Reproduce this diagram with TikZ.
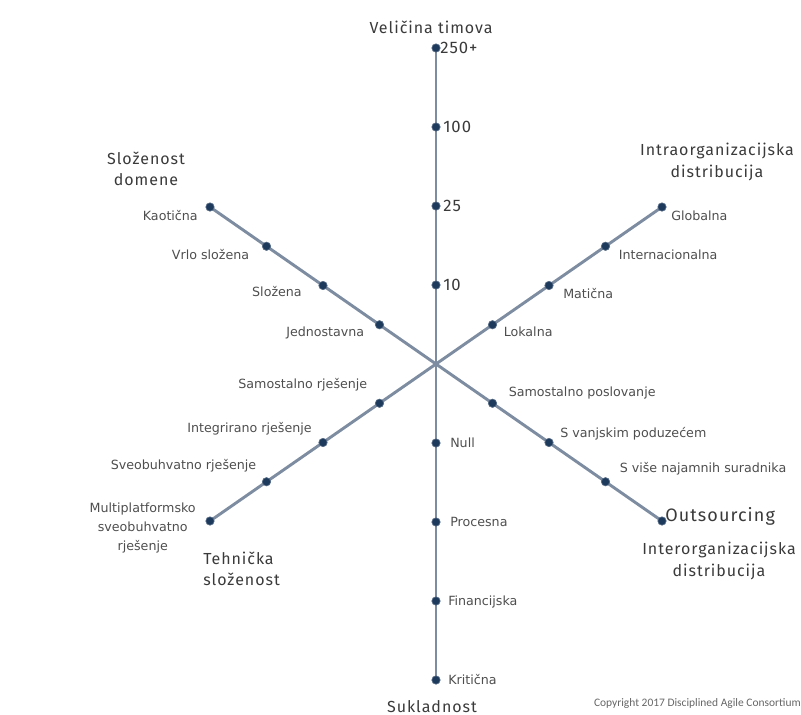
\documentclass[tikz,border=0pt]{standalone}
\usepackage{fontspec}
\setmainfont{Fira Sans}
\newfontfamily\titlefont[LetterSpace=6]{Fira Sans}
\newfontfamily\lblfont{DejaVu Sans}
\newfontfamily\notefont{Carlito}
\usetikzlibrary{backgrounds}
\definecolor{axisgray}{HTML}{7D8CA0}
\definecolor{dotblue}{HTML}{1D3A5C}
\definecolor{titlegray}{HTML}{3A3A3A}
\definecolor{lblgray}{HTML}{4E4E4E}

\begin{document}
\begin{tikzpicture}[
  x=0.75pt, y=-0.75pt,
  dot/.style={circle, fill=dotblue, draw=dotblue!75!white, line width=0.5pt,
    inner sep=0pt, minimum size=6.3pt},
  axis/.style={draw=axisgray, line width=2.2pt},
  title/.style={font=\titlefont\fontsize{12}{16}\selectfont, text=titlegray,
    inner sep=0pt},
  value/.style={font=\titlefont\fontsize{12.5}{14}\selectfont, text=titlegray,
    inner sep=0pt},
  lbl/.style={font=\lblfont\fontsize{9.5}{14.5}\selectfont, text=lblgray,
    inner sep=0pt}
]
\useasboundingbox (0,0) rectangle (801,715);

% Velicina timova (up)
\foreach \val/\dx [count=\k] in {10/7, 25/7, 100/7, 250+/4} {
  \node[dot] (team\k) at (436,364-79*\k) {};
  \node[value, anchor=base west] at ([shift={(\dx,5)}]team\k) {\val};
}
% Sukladnost (down)
\foreach \lab/\dx [count=\k] in {Null/14, Procesna/14, Financijska/12, Kritična/12} {
  \node[dot] (comp\k) at (436,364+79*\k) {};
  \node[lbl, anchor=base west] at ([shift={(\dx,4)}]comp\k) {\lab};
}
% Slozenost domene (up left)
\foreach \lab/\dx/\dy [count=\k] in {Jednostavna/-15/12, Složena/-21/11,
    Vrlo složena/-17/13, Kaotična/-12/13} {
  \node[dot] (dom\k) at (436-56.5*\k,364-39.25*\k) {};
  \node[lbl, anchor=base east] at ([shift={(\dx,\dy)}]dom\k) {\lab};
}
% Intraorganizacijska distribucija (up right)
\foreach \lab/\dx/\dy [count=\k] in {Lokalna/11/12, Matična/14/13,
    Internacionalna/13/13, Globalna/9/13} {
  \node[dot] (intra\k) at (436+56.5*\k,364-39.25*\k) {};
  \node[lbl, anchor=base west] at ([shift={(\dx,\dy)}]intra\k) {\lab};
}
% Tehnicka slozenost (down left)
\foreach \lab/\dx/\dy [count=\k] in {Samostalno rješenje/-12/-15,
    Integrirano rješenje/-11/-10, Sveobuhvatno rješenje/-10/-12} {
  \node[dot] (tech\k) at (436-56.5*\k,364+39.25*\k) {};
  \node[lbl, anchor=base east] at ([shift={(\dx,\dy)}]tech\k) {\lab};
}
\node[dot] (tech4) at (436-56.5*4,364+39.25*4) {};
\node[lbl, align=center, anchor=east] at ([shift={(-14,7)}]tech4)
  {Multiplatformsko\\sveobuhvatno\\rješenje};
% Interorganizacijska distribucija (down right)
\foreach \lab/\dx/\dy [count=\k] in {Samostalno poslovanje/16/-7,
    S vanjskim poduzećem/11/-5, S više najamnih suradnika/14/-9} {
  \node[dot] (inter\k) at (436+56.5*\k,364+39.25*\k) {};
  \node[lbl, anchor=base west] at ([shift={(\dx,\dy)}]inter\k) {\lab};
}
\node[dot] (inter4) at (436+56.5*4,364+39.25*4) {};
\node[title, font=\titlefont\fontsize{13.5}{16}\selectfont, anchor=base west]
  at ([shift={(3,0)}]inter4) {Outsourcing};

% axes
\begin{scope}[on background layer]
  \draw[axis] (team4.center) -- (comp4.center);
  \draw[axis] (dom4.center) -- (inter4.center);
  \draw[axis] (intra4.center) -- (tech4.center);
\end{scope}

% axis titles
\node[title, anchor=base] (teamtitle) at (431,33) {Veličina timova};
\node[title, align=center] (domtitle) at (146,169) {Složenost\\domene};
\node[title, align=center] (intratitle) at (717,162)
  {Intraorganizacijska\\distribucija};
\node[title, align=left, anchor=west] (techtitle) at (203,569)
  {Tehnička\\složenost};
\node[title, align=center] (intertitle) at (719,561)
  {Interorganizacijska\\distribucija};
\node[title, anchor=base] (comptitle) at (432,712) {Sukladnost};

\node[font=\notefont\fontsize{8.6}{9}\selectfont, text=black!60, anchor=east,
  inner sep=0pt] (note) at (801,703) {Copyright 2017 Disciplined Agile Consortium};
\end{tikzpicture}
\end{document}
